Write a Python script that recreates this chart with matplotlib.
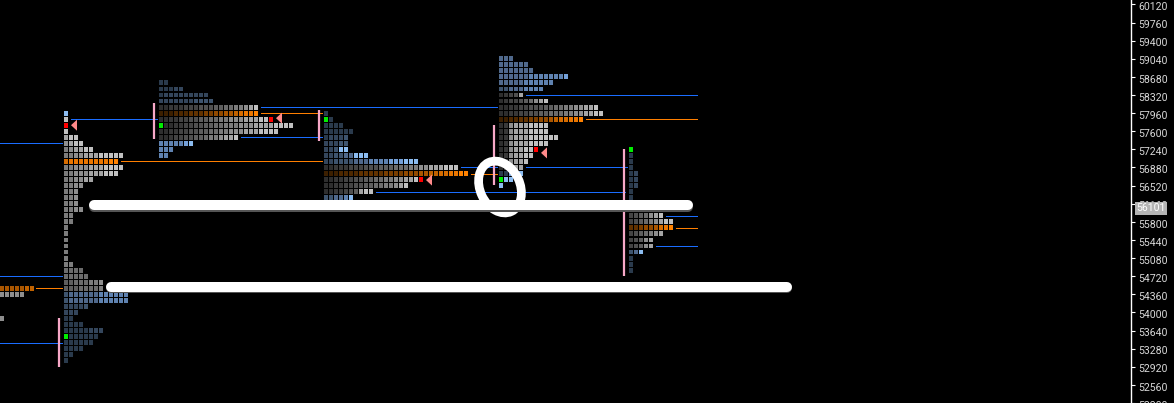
import matplotlib
matplotlib.use("Agg")
import matplotlib.pyplot as plt
import matplotlib.transforms as mtransforms
from matplotlib.patches import Polygon, Ellipse

ROW = 120  # price per TPO row

PALETTE = {
    # greys (early -> late periods)
    '0': '#2e2e2e', '1': '#383838', '2': '#444444', '3': '#505050', '4': '#5e5e5e',
    '5': '#6c6c6c', '6': '#7c7c7c', '7': '#8e8e8e', '8': '#a4a4a4', '9': '#c0c0c0',
    # point-of-control oranges
    'a': '#3c1f00', 'b': '#4e2800', 'c': '#623200', 'd': '#7a3e00', 'e': '#924a00',
    'f': '#aa5600', 'g': '#c06200', 'h': '#d66c00', 'i': '#ea7600', 'j': '#ff8200',
    # blues
    'q': '#2a3a4c', 'r': '#34465c', 's': '#3e546e', 't': '#50698c', 'u': '#5f82b0',
    'v': '#74a0d8', 'w': '#8cbcf0',
    'R': '#ff0000', 'G': '#00ee00',
}

# ---- TPO profiles: left x (px column), top row price, rows of period colour codes ----
left_x, left_top = 0, 54480
left_rows = ['fffffgg', '77777', '', '', '', '7']

p1_x, p1_top = 64, 57960
p1_rows = ['w', '9', 'R', '9', '899', '7899', '678899', '667788899999', 'hiiiiiiiijj',
           '667778889999', '66777888999', '667788', '6677', '667', '667', '667', '6677',
           '66', '66', '6', '6', '6', '6', '6', '6', '66', '5555', '55555', '44555667',
           '44455556', 'sttttttuuuuuu', 'sttttttuuuuuu', 'rrrrs', 'rrr', 'qq', 'qqqq',
           'qqqqqrrr', 'Gqqqqqq', 'qqqqqq', 'qqqq', 'qq', 'q']

p2_x, p2_top = 159, 58560
p2_rows = ['qq', 'qqqrr', 'qrrrrrrrrr', 'rrrrrrrssss', '00111222333445566789',
           'aaabbbcccddeeffghiij', '0011223344556677788899R', 'G00112233445566677788889999',
           '001122334455667778889999', '0012233445667889', 'uuuuuvw', 'uuu', 'uu']

p3_x, p3_top = 324, 57960
p3_rows = ['q', 'Gq', 'qqqq', 'qqqqqq', 'qrrrs', 'rrrss', 'rrsww', 'rrssttwww',
           'rrsssstttuuuuvvvwww', '001112223334445556677888999',
           'aaabbbbcccccddddeeeffgghhiijj', '0011223344556677889R', '00112233445566789',
           '0011234899', 'ssttuw', 'sstt', 'r']

p4_x, p4_top = 499, 59040
p4_rows = ['ttt', 'tttttt', 'ttttttt', 'ttttttuuuuuuuv', 'tttttuuuuuu', 'sstttuuuu',
           '01238', '0122345789', '00112233344556677889', '001122334455566778899',
           'aabbccddeefghhiij', '0178889999', '0178889999', '017888999999', '0178889999',
           '0178899R', '0178899', '017889', '01788', 'qqvww', 'Gww', 'w']

p5_x, p5_top = 629, 57240
p5_rows = ['G', 'q', 'q', 'q', 'qr', 'qr', 'qr', 'q', 'q', 'qtR', 'qtw', '2345789',
           '234567899', 'ccdeefhij', '2345678', '23478', '23478', 'stw', 'q', 'q', 'q']

profiles = [(left_x, left_top, left_rows), (p1_x, p1_top, p1_rows), (p2_x, p2_top, p2_rows),
            (p3_x, p3_top, p3_rows), (p4_x, p4_top, p4_rows), (p5_x, p5_top, p5_rows)]

# value-area (blue) and POC (orange) level lines: price, x start, x end
blue_levels = [(57360, 0, 62), (54720, 0, 62), (53400, 0, 62), (57840, 71, 157),
               (58080, 261, 497), (57480, 241, 322), (56880, 461, 497), (56400, 376, 625),
               (58320, 526, 697), (56880, 526, 627), (55920, 666, 697), (55320, 656, 697)]
orange_levels = [(54480, 36, 62), (57000, 121, 322), (57960, 261, 322), (56760, 471, 497),
                 (57840, 586, 697), (55680, 676, 697)]

# initial-balance ranges (pink verticals): x, high, low
ib_ranges = [(58.5, 53880, 52920), (154, 58170, 57450), (319, 58030, 57410),
             (494, 57730, 56540), (624, 57250, 54730)]

# close markers: tip x, price
close_marks = [(71, 57720), (276, 57860), (426, 56630), (541, 57170), (646, 56101)]
last_price = 56101

y_ticks = list(range(52200, 60121, 360))

# ---------------------------------------------------------------
fig = plt.figure(figsize=(11.74, 4.03), dpi=100)
fig.patch.set_facecolor('black')
ax = fig.add_axes([0, 0, 1131 / 1174, 1])
ax.set_facecolor('black')
ax.set_xlim(0, 1131)
ax.set_ylim(52212, 60208)

CELL_W, CELL_PITCH, CELL_H = 4, 5, 97
for x0, top, rows in profiles:
    xs, bs, cs = [], [], []
    for i, row in enumerate(rows):
        price = top - i * ROW
        for j, code in enumerate(row):
            xs.append(x0 + j * CELL_PITCH)
            bs.append(price - CELL_H / 2)
            cs.append(PALETTE[code])
    if xs:
        ax.bar(xs, CELL_H, width=CELL_W, bottom=bs, color=cs, align='edge', linewidth=0, zorder=2)

for p, a, b in blue_levels:
    ax.hlines(p, a, b, color='#1a6dff', lw=0.72, zorder=3, antialiased=False)
for p, a, b in orange_levels:
    ax.hlines(p, a, b, color='#ff7f00', lw=0.72, zorder=3, antialiased=False)
for x, hi, lo in ib_ranges:
    ax.vlines(x, lo, hi, color='#f7a8c8', lw=1.6, zorder=3)

TRI_W, TRI_H = 6, 110
for tx, p in close_marks:
    ax.add_patch(Polygon([(tx, p), (tx + TRI_W, p + TRI_H), (tx + TRI_W, p - TRI_H)],
                         closed=True, fc='#ff8a8a', ec='none', zorder=4))

# axis styling
for s in ['left', 'top', 'bottom']:
    ax.spines[s].set_visible(False)
ax.spines['right'].set_color('white')
ax.spines['right'].set_linewidth(1)
ax.set_xticks([])
ax.yaxis.tick_right()
ax.set_yticks(y_ticks)
ax.set_yticklabels([str(v) for v in y_ticks])
ax.tick_params(axis='y', colors='white', length=3, width=0.8, pad=2, labelsize=7.6,
               labelcolor='#d8d8d8')
offset = mtransforms.ScaledTranslation(0, -1.7 / 100, fig.dpi_scale_trans)
for lab in ax.get_yticklabels():
    lab.set_fontfamily('Roboto')
    lab.set_transform(lab.get_transform() + offset)

ann = ax.annotate(str(last_price), xy=(1, last_price), xycoords=('axes fraction', 'data'),
                  xytext=(5, -1.7), textcoords='offset pixels', ha='left', va='center',
                  fontsize=7.6, fontfamily='Roboto', color='white',
                  bbox=dict(boxstyle='square,pad=0.12', fc='#b4b4b4', ec='none'),
                  annotation_clip=False)

# hand-drawn white annotation strokes (pixel overlay)
ov = fig.add_axes([0, 0, 1, 1])
ov.set_xlim(0, 1174)
ov.set_ylim(403, 0)
ov.axis('off')
ov.patch.set_alpha(0)
for (x1, x2, y) in [(94, 687.5, 205), (111, 787, 286.5)]:
    ov.plot([x1, x2], [y + 1.5, y + 1.5], color='#555555', lw=7.2, solid_capstyle='round')
    ov.plot([x1, x2], [y, y], color='white', lw=7.2, solid_capstyle='round')
ov.add_patch(Ellipse((500, 187), 40, 54, angle=-25, fill=False, ec='white', lw=6.3))

fig.savefig('out.png', dpi=100, facecolor='black')
